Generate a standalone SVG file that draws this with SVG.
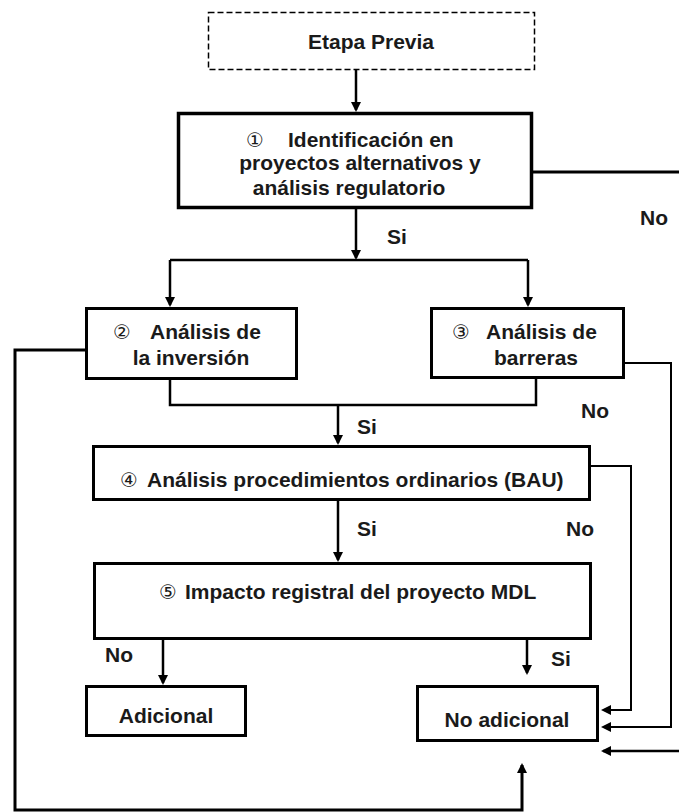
<svg xmlns="http://www.w3.org/2000/svg" width="679" height="812" viewBox="0 0 679 812">
<style>
  .box { fill: #fff; stroke: #000; stroke-width: 3; }
  .dash { fill: #fff; stroke: #000; stroke-width: 1.5; stroke-dasharray: 6 3; }
  .t { font-family: "Liberation Sans", Arial, sans-serif; font-weight: bold; font-size: 21px; fill: #1a1a1a; }
  .c { font-family: "DejaVu Sans", "Liberation Sans", sans-serif; font-size: 20px; fill: #1a1a1a; }
  .mid { text-anchor: middle; }
  .ln { fill: none; stroke: #000; stroke-width: 2.5; }
  .thick { fill: none; stroke: #000; stroke-width: 3; }
  .thin { fill: none; stroke: #000; stroke-width: 2; }
</style>
<defs>
  <marker id="arr" viewBox="0 0 10 10" refX="8" refY="5" markerWidth="10" markerHeight="10" markerUnits="userSpaceOnUse" orient="auto">
    <path d="M0,0 L10,5 L0,10 z" fill="#000"/>
  </marker>
</defs>

<g id="connectors">
  <path class="ln" d="M356,70 V110" marker-end="url(#arr)"/>
  <path class="ln" d="M356,209 V258" marker-end="url(#arr)"/>
  <path class="ln" d="M170,260 H528"/>
  <path class="ln" d="M170,260 V305" marker-end="url(#arr)"/>
  <path class="ln" d="M528,260 V305" marker-end="url(#arr)"/>
  <path class="ln" d="M170,380 V405 H536 V379"/>
  <path class="ln" d="M338,405 V443" marker-end="url(#arr)"/>
  <path class="ln" d="M338,501 V560" marker-end="url(#arr)"/>
  <path class="ln" d="M163,640 V683" marker-end="url(#arr)"/>
  <path class="ln" d="M527,640 V673" marker-end="url(#arr)"/>
  <path class="thick" d="M85,350 H15 V810 H522 V765" marker-end="url(#arr)"/>
  <path class="thick" d="M533,172 H679"/>
  <path class="ln" d="M679,751 H603" marker-end="url(#arr)"/>
  <path class="thin" d="M625,363 H671 V727 H603" marker-end="url(#arr)"/>
  <path class="thin" d="M591,466 H631 V710 H603" marker-end="url(#arr)"/>
</g>

<g id="labels">
  <text class="t" x="654" y="225" text-anchor="middle">No</text>
  <text class="t" x="387" y="244">Si</text>
  <text class="t" x="581" y="418">No</text>
  <text class="t" x="357" y="434">Si</text>
  <text class="t" x="357" y="536">Si</text>
  <text class="t" x="566" y="536">No</text>
  <text class="t" x="105" y="662">No</text>
  <text class="t" x="551" y="666">Si</text>
</g>

<g id="etapa-previa">
  <rect class="dash" x="208.5" y="12.5" width="326" height="57"/>
  <text class="t mid" x="371" y="49">Etapa Previa</text>
</g>

<g id="identificacion">
  <rect class="box" x="178.5" y="113.5" width="353" height="94" style="stroke-width:3.5"/>
  <text class="c mid" x="255" y="147">①</text>
  <text class="t" x="288" y="147">Identificación en</text>
  <text class="t mid" x="360" y="170">proyectos alternativos y</text>
  <text class="t mid" x="349" y="195">análisis regulatorio</text>
</g>

<g id="analisis-inversion">
  <rect class="box" x="86.5" y="308.5" width="210" height="70"/>
  <text class="c mid" x="122" y="339">②</text>
  <text class="t" x="150" y="339">Análisis de</text>
  <text class="t mid" x="191" y="365">la inversión</text>
</g>

<g id="analisis-barreras">
  <rect class="box" x="431.5" y="308.5" width="192" height="69"/>
  <text class="c mid" x="461" y="339">③</text>
  <text class="t" x="486" y="339">Análisis de</text>
  <text class="t mid" x="536" y="365">barreras</text>
</g>

<g id="analisis-bau">
  <rect class="box" x="93.5" y="446.5" width="496" height="53"/>
  <text class="c mid" x="129" y="487">④</text>
  <text class="t" x="147" y="487">Análisis procedimientos ordinarios (BAU)</text>
</g>

<g id="impacto-mdl">
  <rect class="box" x="94.5" y="563.5" width="496" height="75"/>
  <text class="c mid" x="168" y="599">⑤</text>
  <text class="t" x="185" y="599">Impacto registral del proyecto MDL</text>
</g>

<g id="adicional">
  <rect class="box" x="86.5" y="686.5" width="159" height="49"/>
  <text class="t mid" x="166" y="723">Adicional</text>
</g>

<g id="no-adicional">
  <rect class="box" x="417.5" y="686.5" width="180" height="54"/>
  <text class="t mid" x="507" y="727">No adicional</text>
</g>
</svg>
